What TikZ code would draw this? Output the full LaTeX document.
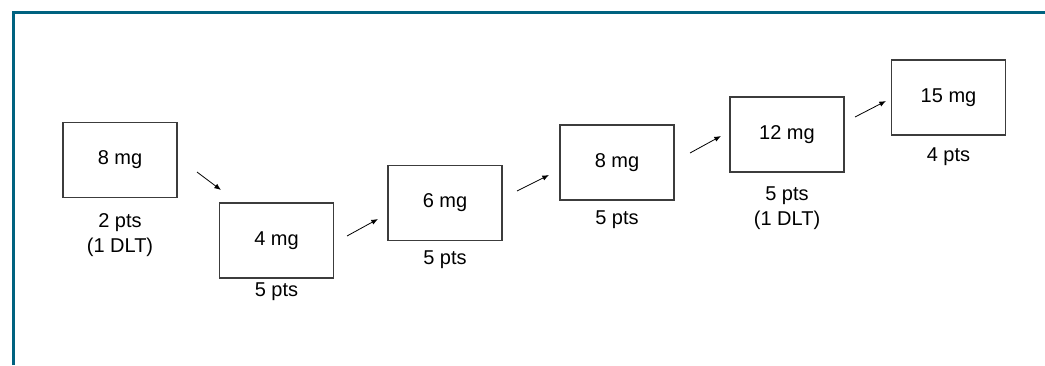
\documentclass[tikz,border=0pt]{standalone}
\usepackage{fontspec}
\setmainfont{Liberation Sans}
\usetikzlibrary{arrows.meta}
\definecolor{frameteal}{RGB}{0,98,128}
\definecolor{boxgray}{RGB}{60,60,60}
\tikzset{
	dosebox/.style={draw=boxgray, line width=1.1pt, minimum width=85.5pt, minimum height=56.25pt, inner sep=0pt, font=\fontsize{15}{18.75}\selectfont},
	ptslabel/.style={align=center, inner sep=0pt, font=\fontsize{15}{18.75}\selectfont},
	stepline/.style={line width=0.6pt, -{Latex[length=5pt, width=4pt]}}
}
\begin{document}
\begin{tikzpicture}[x=0.75pt, y=-0.75pt]
			\useasboundingbox (0,0) rectangle (1045,365);
			\draw[frameteal, line width=2.25pt] (13,365) -- (13,12) -- (1045,12);

			\draw node[dosebox] (b1) at (120,160) {8 mg};
			\draw node[dosebox] (b2) at (276.5,240.5) {4 mg};
			\draw node[dosebox] (b3) at (445,203) {6 mg};
			\draw node[dosebox] (b4) at (617,162.5) {8 mg};
			\draw node[dosebox] (b5) at (787,134.5) {12 mg};
			\draw node[dosebox] (b6) at (948.5,97.5) {15 mg};

			\draw node[ptslabel] (l1) at (120,235) {2 pts\\(1 DLT)};
			\draw node[ptslabel] (l2) at (276.5,292) {5 pts};
			\draw node[ptslabel] (l3) at (445,260) {5 pts};
			\draw node[ptslabel] (l4) at (617,220) {5 pts};
			\draw node[ptslabel] (l5) at (787,208) {5 pts\\(1 DLT)};
			\draw node[ptslabel] (l6) at (948.5,157) {4 pts};

			\coordinate (a1s) at (197,172); \coordinate (a1e) at (221,190);
			\coordinate (a2s) at (347,236); \coordinate (a2e) at (378,219);
			\coordinate (a3s) at (517,191); \coordinate (a3e) at (549,175);
			\coordinate (a4s) at (690,153); \coordinate (a4e) at (721,136);
			\coordinate (a5s) at (855,117); \coordinate (a5e) at (886,101);

			\draw[stepline] (a1s) -- (a1e);
			\draw[stepline] (a2s) -- (a2e);
			\draw[stepline] (a3s) -- (a3e);
			\draw[stepline] (a4s) -- (a4e);
			\draw[stepline] (a5s) -- (a5e);
		\end{tikzpicture}
\end{document}
